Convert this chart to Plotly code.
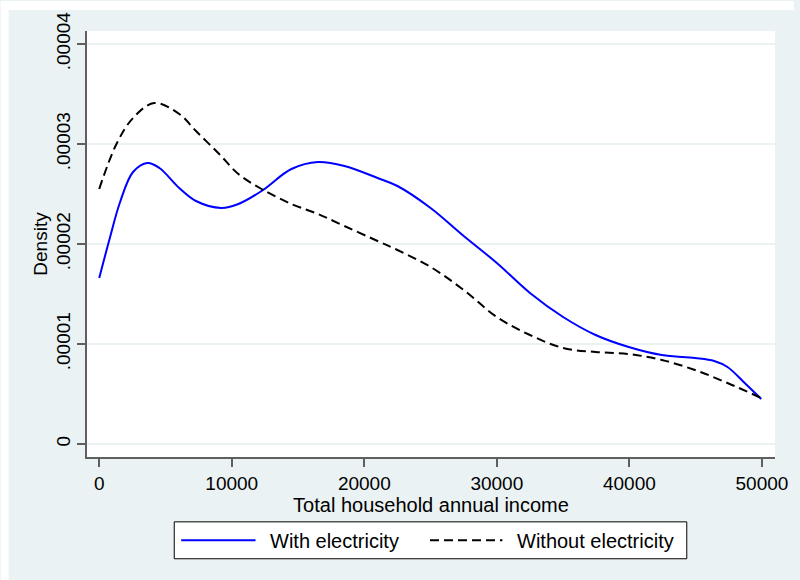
import plotly.graph_objects as go

# Kernel density estimates of total household annual income
income_with = [0, 800, 1550, 2550, 3640, 4540, 6040, 7300, 9200, 10500, 12250,
               14500, 16500, 18500, 21000, 22500, 25000, 27500, 30000, 32500,
               35000, 37450, 39950, 42450, 44950, 46400, 47400, 48700, 49950]
density_with = [1.66e-5, 2.06e-5, 2.41e-5, 2.72e-5, 2.81e-5, 2.76e-5, 2.56e-5,
                2.43e-5, 2.36e-5, 2.40e-5, 2.53e-5, 2.75e-5, 2.82e-5, 2.78e-5,
                2.66e-5, 2.58e-5, 2.36e-5, 2.08e-5, 1.81e-5, 1.51e-5, 1.27e-5,
                1.09e-5, 0.97e-5, 0.89e-5, 0.86e-5, 0.83e-5, 0.77e-5, 0.61e-5,
                0.45e-5]

income_without = [0, 1300, 2550, 4150, 6040, 7300, 9050, 10500, 12250, 14500,
                  16500, 18500, 21000, 22500, 25000, 27500, 30000, 32500, 35000,
                  37450, 39950, 42450, 44950, 47400, 49950]
density_without = [2.55e-5, 3.00e-5, 3.26e-5, 3.41e-5, 3.30e-5, 3.13e-5, 2.90e-5,
                   2.70e-5, 2.55e-5, 2.40e-5, 2.30e-5, 2.18e-5, 2.03e-5, 1.94e-5,
                   1.77e-5, 1.54e-5, 1.27e-5, 1.09e-5, 0.96e-5, 0.92e-5, 0.90e-5,
                   0.84e-5, 0.74e-5, 0.61e-5, 0.46e-5]

x_ticks = [0, 10000, 20000, 30000, 40000, 50000]
y_ticks = [0, 1e-5, 2e-5, 3e-5, 4e-5]
y_tick_labels = ["0", ".00001", ".00002", ".00003", ".00004"]

series_names = ["With electricity", "Without electricity"]

FONT = "Liberation Sans, Arial, sans-serif"
BG = "#EAF2F3"
AXIS = "#5f5f5f"

fig = go.Figure()
fig.add_trace(go.Scatter(
    x=income_with, y=density_with, mode="lines", name=series_names[0],
    line=dict(color="#0000FF", width=2, shape="spline", smoothing=1.0),
    showlegend=False,
))
fig.add_trace(go.Scatter(
    x=income_without, y=density_without, mode="lines", name=series_names[1],
    line=dict(color="#000000", width=2, dash="9px,5px", shape="spline", smoothing=1.0),
    showlegend=False,
))

# plot area geometry (pixels) used to place the hand-drawn legend box
L, R, T, B = 87, 19, 30, 123
W, H = 800 - L - R, 580 - T - B


def px(x):
    return (x - L) / W


def py(y):
    return (580 - B - y) / H


shapes = [
    # thin white strips outside the grey page frame
    dict(type="rect", xref="paper", yref="paper", x0=px(0), x1=px(8), y0=py(580), y1=py(0),
         fillcolor="white", line=dict(width=0), layer="below"),
    dict(type="rect", xref="paper", yref="paper", x0=px(0), x1=px(800), y0=py(9), y1=py(0),
         fillcolor="white", line=dict(width=0), layer="below"),
    # legend frame
    dict(type="rect", xref="paper", yref="paper", x0=px(175), x1=px(692), y0=py(559), y1=py(522),
         fillcolor="white", line=dict(color="black", width=1)),
    # legend samples
    dict(type="line", xref="paper", yref="paper", x0=px(182), x1=px(257), y0=py(540.5), y1=py(540.5),
         line=dict(color="#0000FF", width=2)),
    dict(type="line", xref="paper", yref="paper", x0=px(433), x1=px(506), y0=py(540.5), y1=py(540.5),
         line=dict(color="black", width=2, dash="9px,5px")),
]

annotations = [
    dict(text=series_names[0], xref="paper", yref="paper", x=px(270), y=py(541),
         xanchor="left", yanchor="middle", showarrow=False,
         font=dict(family=FONT, size=20, color="black")),
    dict(text=series_names[1], xref="paper", yref="paper", x=px(519), y=py(541),
         xanchor="left", yanchor="middle", showarrow=False,
         font=dict(family=FONT, size=20, color="black")),
]

fig.update_layout(
    width=800, height=580,
    margin=dict(l=L, r=R, t=T, b=B, pad=0),
    paper_bgcolor=BG,
    plot_bgcolor="white",
    font=dict(family=FONT, size=19, color="black"),
    shapes=shapes,
    annotations=annotations,
    showlegend=False,
)

fig.update_xaxes(
    range=[-923, 50987],
    tickvals=x_ticks,
    ticktext=[str(v) for v in x_ticks],
    ticks="outside", ticklen=8, tickwidth=1.5, tickcolor=AXIS,
    showline=True, linecolor=AXIS, linewidth=1.5,
    showgrid=False, zeroline=False,
    tickfont=dict(size=19),
    title=dict(text="Total household annual income", font=dict(size=20), standoff=1),
)

fig.update_yaxes(
    range=[-0.13e-5, 4.13e-5],
    tickvals=y_ticks,
    ticktext=y_tick_labels,
    tickangle=-90,
    ticks="outside", ticklen=8, tickwidth=1.5, tickcolor=AXIS,
    showline=True, linecolor=AXIS, linewidth=1.5,
    showgrid=True, gridcolor=BG, gridwidth=2,
    zeroline=False,
    tickfont=dict(size=19),
    title=dict(text="Density", font=dict(size=19), standoff=0),
)

fig.write_html("out.html")
